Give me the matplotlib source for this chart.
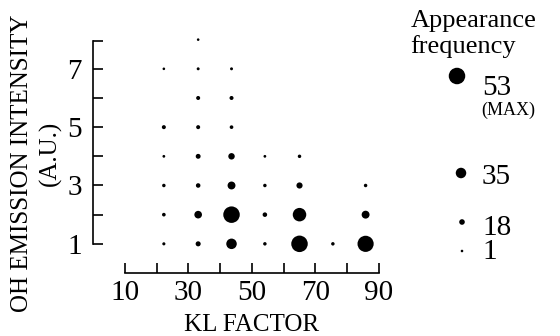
import matplotlib.pyplot as plt
import numpy as np

plt.rcParams['font.family'] = ['Liberation Serif', 'DejaVu Serif']

# KL factor / OH emission intensity / appearance frequency of each dot
kl_factor = [22.3, 22.3, 22.3, 22.3, 22.3, 22.3,
             33.1, 33.1, 33.1, 33.1, 33.1, 33.1, 33.1, 33.1,
             43.6, 43.6, 43.6, 43.6, 43.6, 43.6, 43.6,
             54.1, 54.1, 54.1, 54.1,
             65.0, 65.0, 65.0, 65.0,
             75.5,
             85.8, 85.8, 85.8]
oh_intensity = [1, 2, 3, 4, 5, 7,
                1, 2, 3, 4, 5, 6, 7, 8,
                1, 2, 3, 4, 5, 6, 7,
                1, 2, 3, 4,
                1, 2, 3, 4,
                1,
                1, 2, 3]
frequency = [4, 7, 6, 2, 9, 1,
             15, 25, 12, 14, 9, 9, 3, 1,
             35, 53, 26, 21, 7, 9, 3,
             6, 12, 6, 2,
             53, 44, 20, 6,
             6,
             52, 26, 6]

key_freq = [53, 35, 18, 1]
key_text = ["53", "35", "18", "1"]

x_ticks = [10, 20, 30, 40, 50, 60, 70, 80, 90]
x_ticklabels = ["10", "", "30", "", "50", "", "70", "", "90"]
y_ticks = [1, 2, 3, 4, 5, 6, 7]
y_ticklabels = ["1", "", "3", "", "5", "", "7"]


def dot_size(f):
    # diameter in pixels
    d = np.interp(f, [1, 18, 35, 53], [2.6, 5.6, 10.5, 16.5])
    return (d * 0.72) ** 2


fig = plt.figure(figsize=(5.6, 3.36), dpi=100)
ax = fig.add_axes([93 / 560, 63 / 336, 305 / 560, 251 / 336])
ax.set_xlim(0, 96)
ax.set_ylim(0, 251 / 29.17)

ax.scatter(kl_factor, oh_intensity, s=dot_size(np.array(frequency)),
           color="black", linewidths=0, zorder=3)

for side in ["top", "right"]:
    ax.spines[side].set_visible(False)
ax.spines["left"].set_bounds(1, 7.95)
ax.spines["bottom"].set_bounds(10, 90)
ax.spines["left"].set_linewidth(1.2)
ax.spines["bottom"].set_linewidth(1.2)

ax.set_xticks(x_ticks)
ax.set_xticklabels(x_ticklabels)
ax.set_yticks(y_ticks)
ax.set_yticklabels(y_ticklabels)
ax.set_yticks([7.95], minor=True)
ax.tick_params(axis="both", which="both", direction="in", length=7,
               width=1.2, labelsize=21)
ax.tick_params(axis="x", pad=5)
ax.tick_params(axis="y", pad=8)

ax.set_xlabel("KL FACTOR", fontsize=18, labelpad=0)
ax.xaxis.set_label_coords(50 / 96, -0.165)
fig.text(22 / 560, 1 - 163 / 336, "OH EMISSION INTENSITY", rotation=90,
         ha="center", va="center", fontsize=18)
fig.text(50 / 560, 1 - 153 / 336, "(A.U.)", rotation=90,
         ha="center", va="center", fontsize=18)

# legend drawn in pixel space
lax = fig.add_axes([0, 0, 1, 1])
lax.set_xlim(0, 560)
lax.set_ylim(336, 0)
lax.axis("off")
lax.text(411, 27, "Appearance", fontsize=19, va="baseline")
lax.text(410, 53, "frequency", fontsize=19, va="baseline")
key_x = [457, 461, 462, 462]
key_y = [76, 173, 222, 251]
lax.scatter(key_x, key_y, s=dot_size(np.array(key_freq)), color="black",
            linewidths=0)
text_base = [95, 184, 235, 259]
for t, b in zip(key_text, text_base):
    lax.text(482, b, t, fontsize=21, va="baseline")
lax.text(481, 115, "(MAX)", fontsize=13, va="baseline")

plt.savefig("out.png", dpi=100)
